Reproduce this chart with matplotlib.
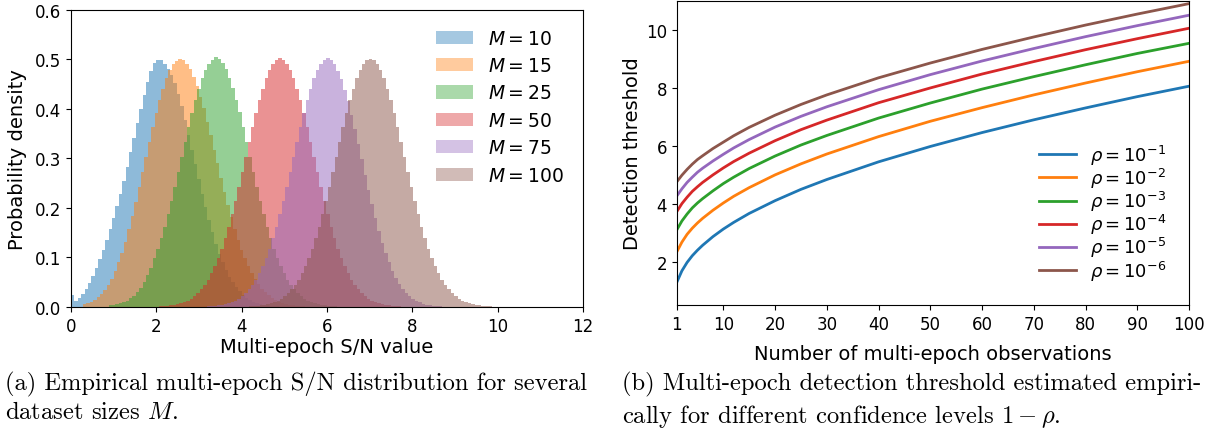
import numpy as np
import matplotlib
matplotlib.use("Agg")
import matplotlib.pyplot as plt

# ---------------- left panel: multi-epoch S/N histograms (density per bin) ----------------
BIN_W = 0.08
m_labels = ["$M = 10$", "$M = 15$", "$M = 25$", "$M = 50$", "$M = 75$", "$M = 100$"]
bin_start = [0.0, 0.28, 0.88, 1.98, 3.10, 3.94]

dens_m10 = [0.024, 0.012, 0.018, 0.026, 0.036, 0.048, 0.062, 0.078, 0.097, 0.116,
            0.136, 0.157, 0.180, 0.203, 0.228, 0.254, 0.282, 0.312, 0.342, 0.372,
            0.400, 0.428, 0.455, 0.476, 0.492, 0.499, 0.498, 0.490, 0.480, 0.468,
            0.452, 0.430, 0.405, 0.377, 0.348, 0.318, 0.288, 0.258, 0.229, 0.201,
            0.175, 0.151, 0.128, 0.108, 0.090, 0.075, 0.061, 0.050, 0.040, 0.032,
            0.025, 0.019, 0.015, 0.011, 0.0086, 0.0065, 0.0048, 0.0035, 0.0026, 0.0018,
            0.0013, 0.0009, 0.0006]
dens_m15 = [0.006, 0.008, 0.011, 0.015, 0.020, 0.026, 0.034, 0.044, 0.056, 0.072,
            0.090, 0.110, 0.132, 0.157, 0.184, 0.212, 0.242, 0.272, 0.303, 0.334,
            0.363, 0.392, 0.418, 0.441, 0.462, 0.478, 0.490, 0.497, 0.501, 0.498,
            0.491, 0.480, 0.465, 0.447, 0.425, 0.401, 0.374, 0.347, 0.318, 0.290,
            0.261, 0.233, 0.206, 0.181, 0.157, 0.136, 0.116, 0.098, 0.082, 0.068,
            0.056, 0.046, 0.037, 0.030, 0.024, 0.019, 0.0145, 0.011, 0.0086, 0.0065,
            0.005, 0.0037, 0.0027, 0.002, 0.0014]
dens_m25 = [0.003, 0.004, 0.0055, 0.0075, 0.010, 0.013, 0.018, 0.023, 0.030, 0.039,
            0.050, 0.064, 0.079, 0.099, 0.118, 0.139, 0.162, 0.188, 0.215, 0.243,
            0.273, 0.303, 0.334, 0.363, 0.392, 0.418, 0.441, 0.462, 0.478, 0.490,
            0.498, 0.505, 0.500, 0.492, 0.480, 0.463, 0.442, 0.419, 0.393, 0.364,
            0.334, 0.303, 0.273, 0.243, 0.215, 0.188, 0.162, 0.139, 0.118, 0.099,
            0.082, 0.068, 0.055, 0.044, 0.036, 0.028, 0.022, 0.017, 0.013, 0.010,
            0.0075, 0.0056, 0.0041, 0.0030, 0.0022, 0.0016, 0.0011, 0.0008]
dens_m50 = [0.0008, 0.0011, 0.0016, 0.0022, 0.0030, 0.0041, 0.0056, 0.0075, 0.010, 0.013,
            0.017, 0.022, 0.028, 0.036, 0.044, 0.055, 0.068, 0.082, 0.099, 0.118,
            0.139, 0.162, 0.188, 0.215, 0.243, 0.273, 0.303, 0.334, 0.363, 0.392,
            0.418, 0.441, 0.462, 0.478, 0.490, 0.498, 0.503, 0.499, 0.491, 0.479,
            0.462, 0.441, 0.418, 0.392, 0.363, 0.334, 0.303, 0.273, 0.243, 0.215,
            0.188, 0.162, 0.139, 0.118, 0.099, 0.082, 0.068, 0.055, 0.044, 0.036,
            0.028, 0.022, 0.017, 0.013, 0.010, 0.0075, 0.0056, 0.0041, 0.0030, 0.0022,
            0.0016, 0.0011, 0.0008]
dens_m75 = [0.0008, 0.0011, 0.0016, 0.0022, 0.0030, 0.0041, 0.0056, 0.0075, 0.010, 0.013,
            0.017, 0.022, 0.028, 0.036, 0.044, 0.055, 0.068, 0.082, 0.099, 0.118,
            0.139, 0.162, 0.188, 0.215, 0.243, 0.273, 0.303, 0.334, 0.363, 0.392,
            0.418, 0.441, 0.462, 0.478, 0.490, 0.498, 0.502, 0.498, 0.490, 0.477,
            0.460, 0.439, 0.415, 0.388, 0.359, 0.329, 0.298, 0.267, 0.236, 0.207,
            0.179, 0.153, 0.130, 0.109, 0.090, 0.073, 0.059, 0.047, 0.037, 0.029,
            0.022, 0.017, 0.013, 0.0095, 0.007, 0.005, 0.0036, 0.0026, 0.0018, 0.0012,
            0.0008]
dens_m100 = [0.0004, 0.0006, 0.0008, 0.0011, 0.0016, 0.0022, 0.0030, 0.0041, 0.0056, 0.0075,
             0.010, 0.013, 0.017, 0.022, 0.028, 0.036, 0.044, 0.055, 0.068, 0.082,
             0.099, 0.118, 0.139, 0.162, 0.188, 0.215, 0.243, 0.273, 0.303, 0.334,
             0.363, 0.392, 0.418, 0.441, 0.462, 0.478, 0.490, 0.498, 0.500, 0.498,
             0.490, 0.478, 0.462, 0.441, 0.418, 0.392, 0.363, 0.334, 0.303, 0.273,
             0.243, 0.215, 0.188, 0.162, 0.139, 0.118, 0.099, 0.082, 0.068, 0.055,
             0.044, 0.036, 0.028, 0.022, 0.017, 0.013, 0.010, 0.0075, 0.0056, 0.0041,
             0.0030, 0.0022, 0.0016, 0.0011, 0.0008]
densities = [dens_m10, dens_m15, dens_m25, dens_m50, dens_m75, dens_m100]

# ---------------- right panel: detection threshold vs number of observations ----------------
n_obs = [1, 2, 3, 4, 5, 6, 8, 10, 12, 15, 20, 25, 30, 40, 50, 60, 70, 80, 90, 100]
rho_labels = [r"$\rho = 10^{-1}$", r"$\rho = 10^{-2}$", r"$\rho = 10^{-3}$",
              r"$\rho = 10^{-4}$", r"$\rho = 10^{-5}$", r"$\rho = 10^{-6}$"]
thr_rho1 = [1.28, 1.68, 1.97, 2.20, 2.39, 2.56, 2.86, 3.12, 3.35, 3.66, 4.10, 4.49, 4.83, 5.44, 5.97, 6.45, 6.89, 7.30, 7.69, 8.05]
thr_rho2 = [2.33, 2.67, 2.94, 3.15, 3.33, 3.49, 3.77, 4.02, 4.25, 4.55, 4.99, 5.37, 5.71, 6.31, 6.84, 7.31, 7.75, 8.16, 8.55, 8.91]
thr_rho3 = [3.09, 3.40, 3.64, 3.85, 4.02, 4.17, 4.44, 4.69, 4.91, 5.21, 5.64, 6.02, 6.35, 6.95, 7.47, 7.95, 8.38, 8.79, 9.18, 9.53]
thr_rho4 = [3.72, 4.00, 4.22, 4.42, 4.58, 4.73, 4.99, 5.23, 5.45, 5.74, 6.17, 6.55, 6.88, 7.48, 7.99, 8.47, 8.90, 9.31, 9.69, 10.05]
thr_rho5 = [4.26, 4.51, 4.73, 4.91, 5.08, 5.22, 5.47, 5.70, 5.92, 6.21, 6.64, 7.01, 7.34, 7.93, 8.45, 8.92, 9.35, 9.76, 10.14, 10.50]
thr_rho6 = [4.75, 4.98, 5.18, 5.36, 5.52, 5.65, 5.90, 6.12, 6.34, 6.63, 7.05, 7.42, 7.75, 8.34, 8.85, 9.32, 9.75, 10.16, 10.54, 10.90]
thresholds = [thr_rho1, thr_rho2, thr_rho3, thr_rho4, thr_rho5, thr_rho6]

colors = ["#1f77b4", "#ff7f0e", "#2ca02c", "#d62728", "#9467bd", "#8c564b"]

fig = plt.figure(figsize=(12.15, 4.35), dpi=100)
ax1 = fig.add_axes([0.0584, 0.292, 0.4214, 0.683])
ax2 = fig.add_axes([0.557, 0.2966, 0.4216, 0.6994])

for dens, start, col, lab in zip(densities, bin_start, colors, m_labels):
    edges = start + BIN_W * np.arange(len(dens) + 1)
    centers = edges[:-1] + BIN_W / 2
    ax1.hist(centers, bins=edges, weights=dens, color=col, alpha=0.5, label=lab)

ax1.set_xlim(0, 12)
ax1.set_ylim(0, 0.6)
ax1.set_xticks(np.arange(0, 13, 2))
ax1.set_yticks(np.arange(0, 0.61, 0.1))
ax1.tick_params(labelsize=12)
ax1.set_xlabel("Multi-epoch S/N value", fontsize=14, labelpad=2)
ax1.set_ylabel("Probability density", fontsize=14, labelpad=6)
leg1 = ax1.legend(loc="upper right", fontsize=13.5, frameon=False, labelspacing=0.45,
                  borderaxespad=0.6)
for p in leg1.get_patches():
    p.set_alpha(0.4)

for thr, col, lab in zip(thresholds, colors, rho_labels):
    ax2.plot(n_obs, thr, color=col, lw=2, label=lab)
ax2.set_xlim(1, 100)
ax2.set_ylim(0.5, 11.0)
ax2.set_xticks([1] + list(range(10, 101, 10)))
ax2.set_yticks([2, 4, 6, 8, 10])
ax2.tick_params(labelsize=12)
ax2.set_xlabel("Number of multi-epoch observations", fontsize=14, labelpad=8)
ax2.set_ylabel("Detection threshold", fontsize=14, labelpad=3)
ax2.legend(loc="lower right", fontsize=13, frameon=False, labelspacing=-0.05,
           handlelength=2.0, handletextpad=0.8, borderaxespad=0,
           bbox_to_anchor=(0.97, 0.05))

cap_kw = dict(family="cmr10", math_fontfamily="cm", fontsize=17.7, va="top", linespacing=1.3)
fig.text(0.004, 0.146, "(a) Empirical multi-epoch S/N distribution for several\ndataset sizes $M$.", **cap_kw)
fig.text(0.512, 0.146, "(b) Multi-epoch detection threshold estimated empiri-\ncally for different confidence levels $1 - \\rho$.", **cap_kw)

fig.savefig("out.png", dpi=100)
